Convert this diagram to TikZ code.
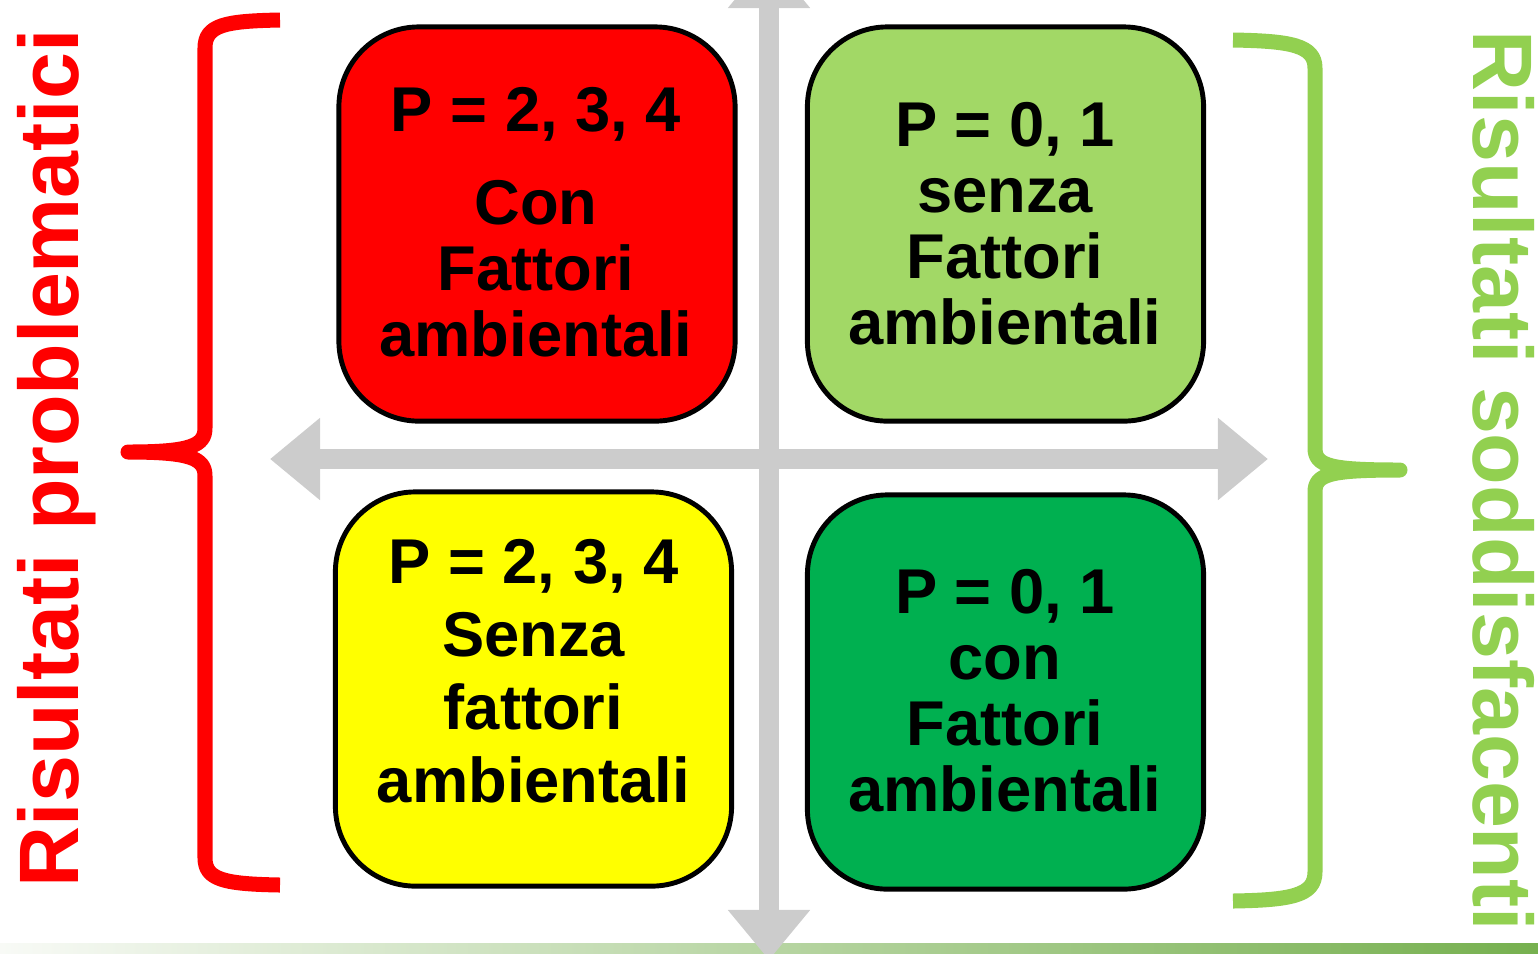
\documentclass[tikz,border=0pt]{standalone}
\usepackage{fontspec}
\setmainfont{Liberation Sans}
\usetikzlibrary{arrows.meta,positioning}
\definecolor{rosso}{HTML}{FF0000}
\definecolor{verdechiaro}{HTML}{A2D866}
\definecolor{verdescuro}{HTML}{00B050}
\definecolor{giallo}{HTML}{FFFF00}
\definecolor{grigio}{HTML}{CCCCCC}
\definecolor{verdegraffa}{HTML}{92D050}
\definecolor{strisciasx}{HTML}{F8FAF6}
\definecolor{strisciamezzo}{HTML}{CFE3C7}
\definecolor{strisciadx}{HTML}{76B04F}

\begin{document}
\begin{tikzpicture}[x=0.01cm,y=-0.01cm,
  quadrato/.style={draw=black, line width=1.4pt, rounded corners=0.8cm,
    minimum width=3.96cm, minimum height=3.94cm},
  testo/.style={align=center, font=\fontsize{18}{18.8}\selectfont\bfseries},
  freccia/.style={draw=grigio, line width=0.2cm,
    {Triangle[width=0.79cm,length=0.5cm]}-{Triangle[width=0.79cm,length=0.5cm]}},
  graffa/.style={line width=0.15cm, line join=round},
  lato/.style={font=\fontsize{24}{24}\selectfont\bfseries}]
\useasboundingbox (0,0) rectangle (1538,953);

% striscia in basso
\shade[left color=strisciasx, middle color=strisciamezzo, right color=strisciadx] (0,943) rectangle (1538,953);

% assi
\coordinate (su) at (769,-42);
\coordinate (giu) at (769,960);
\coordinate (sx) at (270,459);
\coordinate (dx) at (1268,459);
\draw [freccia] (sx) -- (dx);
\draw [freccia] (su) -- (giu);

% quadranti
\node [quadrato, fill=rosso] (rosso) at (537,224) {};
\node [quadrato, fill=verdechiaro] (chiaro) at (1005.5,224) {};
\node [quadrato, fill=giallo] (giallo) at (533.5,689) {};
\node [quadrato, fill=verdescuro] (scuro) at (1005.5,692) {};

\node [testo] (tRosso) at (536,222) {P = 2, 3, 4\\[0.27cm]Con\\Fattori\\ambientali};
\node [testo] (tChiaro) at (1005,224) {P = 0, 1\\senza\\Fattori\\ambientali};
\node [testo, font=\fontsize{18}{20.7}\selectfont\bfseries] (tGiallo) at (533.5,671) {P = 2, 3, 4\\Senza\\fattori\\ambientali};
\node [testo] (tScuro) at (1005,691) {P = 0, 1\\con\\Fattori\\ambientali};

% graffe
\draw [graffa, rosso] (280,20) .. controls (225,21) and (205,25) .. (205,48) -- (205,428)
  .. controls (205,446) and (190,452) .. (128,452)
  .. controls (190,452) and (205,458) .. (205,476) -- (205,858)
  .. controls (205,880) and (225,884) .. (280,885);
\draw [graffa, verdegraffa] (1233,40) .. controls (1290,41) and (1315,45) .. (1315,68) -- (1315,448)
  .. controls (1315,466) and (1330,470) .. (1400,470)
  .. controls (1330,470) and (1315,474) .. (1315,492) -- (1315,872)
  .. controls (1315,896) and (1290,900) .. (1233,901);

% scritte laterali
\node [lato, text=rosso, rotate=90, anchor=base west, inner sep=0pt] (problematici) at (78,888) {Risultati problematici};
\node [lato, text=verdegraffa, rotate=-90, anchor=base west, inner sep=0pt] (soddisfacenti) at (1473,30) {Risultati soddisfacenti};
\end{tikzpicture}
\end{document}
